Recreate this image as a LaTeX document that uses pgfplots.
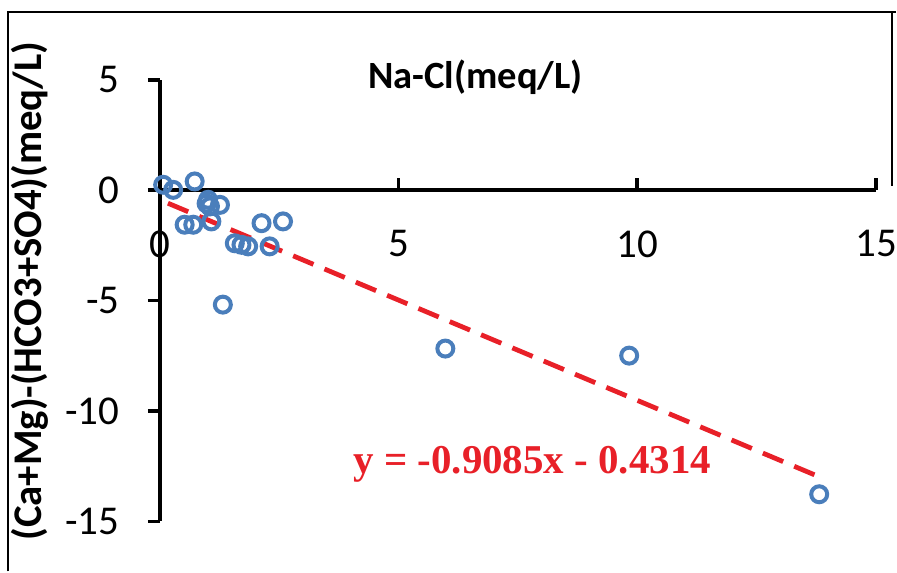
\documentclass[border=0pt]{standalone}
\usepackage{fontspec}
\setmainfont{Carlito}
\newfontfamily\timesfont{Liberation Serif}
\usepackage{pgfplots}
\pgfplotsset{compat=1.18}
\definecolor{exblue}{RGB}{74,126,187}
\definecolor{exred}{RGB}{232,32,40}
\begin{document}
\begin{tikzpicture}
\begin{axis}[
  at={(0pt,0pt)}, anchor=south west,
  scale only axis, width=358.5pt, height=221pt,
  xmin=0, xmax=15, ymin=-15, ymax=5,
  axis lines=middle,
  axis line style={line width=1.8pt, -},
  xtick={0,5,10,15}, ytick={-15,-10,-5,0,5},
  hide obscured x ticks=false, hide obscured y ticks=false,
  major tick length=6pt,
  xtick align=inside, ytick align=outside,
  tick style={line width=1.8pt, black},
  /pgf/number format/assume math mode=true,
  ticklabel style={font=\fontsize{20.5}{24}\selectfont, inner sep=0pt},
  xticklabel style={anchor=north, yshift=-20pt},
  yticklabel style={anchor=east, xshift=-14pt},
  clip=false,
]
\addplot[only marks, mark=o, mark size=4pt, mark options={line width=2pt, exblue}, draw=exblue]
coordinates {
(0.07,0.25) (0.28,0.02) (0.73,0.40) (1.01,-0.43) (0.98,-0.60)
(1.05,-0.73) (1.26,-0.66) (0.52,-1.56) (0.70,-1.56) (1.08,-1.41)
(2.13,-1.49) (2.58,-1.41) (1.57,-2.40) (1.71,-2.47) (1.85,-2.54)
(2.30,-2.54) (1.32,-5.18) (5.98,-7.17) (9.83,-7.49) (13.81,-13.77)
};
\addplot[exred, line width=2.4pt, dash pattern=on 11pt off 6pt] coordinates {(0.17,-0.586) (13.85,-13.014)};
\node[font=\timesfont\bfseries\fontsize{20.5}{24}\selectfont, text=exred, anchor=base, inner sep=0pt] at (axis cs:7.8,-12.85) {y = -0.9085x - 0.4314};
\end{axis}
\node[font=\bfseries\fontsize{19.3}{23}\selectfont] at (158pt,222.5pt) {Na-Cl(meq/L)};
\node[font=\bfseries\fontsize{20.4}{24}\selectfont, rotate=90] at (-65pt,115.25pt) {(Ca+Mg)-(HCO3+SO4)(meq/L)};
\draw[line width=1pt] (-76pt,-25pt) -- (-76pt,255pt) -- (368.5pt,255pt);
\draw[line width=1pt] (366.5pt,255pt) -- (366.5pt,168pt);
\useasboundingbox (-80pt,-25pt) rectangle (368.5pt,261pt);
\end{tikzpicture}
\end{document}
